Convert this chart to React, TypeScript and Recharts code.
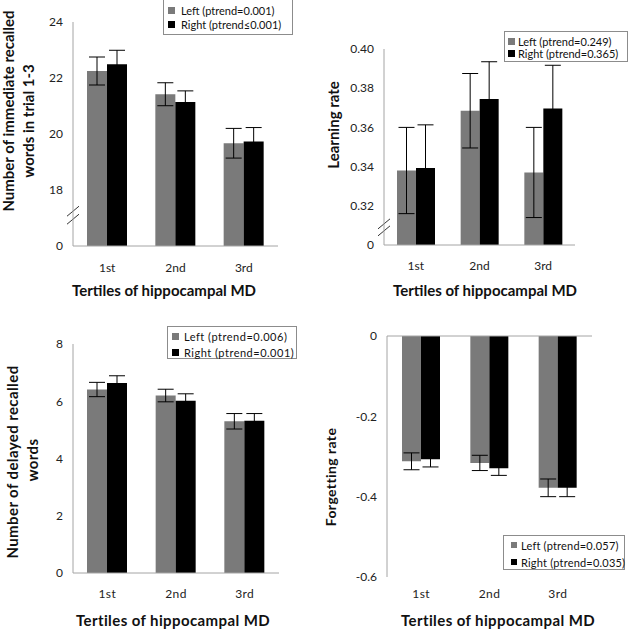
import React from 'react';
import { BarChart, Bar, XAxis, YAxis, ErrorBar, ReferenceLine } from 'recharts';

const tertiles = ['1st', '2nd', '3rd'];

// immediate recall (trials 1-3)
const immLeft = [22.25, 21.42, 19.67];
const immLeftErr = [0.5, 0.41, 0.53];
const immRight = [22.49, 21.14, 19.73];
const immRightErr = [0.5, 0.4, 0.5];
const immTicks = [16, 18, 20, 22, 24];
const immTickLabels = ['0', '18', '20', '22', '24'];

// learning rate
const learnLeft = [0.338, 0.3685, 0.337];
const learnLeftErr = [0.022, 0.019, 0.023];
const learnRight = [0.3393, 0.3745, 0.3697];
const learnRightErr = [0.022, 0.019, 0.022];
const learnTicks = [0.3, 0.32, 0.34, 0.36, 0.38, 0.4];
const learnTickLabels = ['0', '0.32', '0.34', '0.36', '0.38', '0.40'];

// delayed recall
const delayLeft = [6.41, 6.2, 5.3];
const delayLeftErr = [0.25, 0.22, 0.27];
const delayRight = [6.64, 6.02, 5.32];
const delayRightErr = [0.25, 0.24, 0.25];
const delayTicks = [0, 2, 4, 6, 8];
const delayTickLabels = ['0', '2', '4', '6', '8'];

// forgetting rate
const forgetLeft = [-0.312, -0.316, -0.378];
const forgetLeftErr = [0.021, 0.019, 0.022];
const forgetRight = [-0.307, -0.329, -0.378];
const forgetRightErr = [0.019, 0.018, 0.022];
const forgetTicks = [-0.6, -0.4, -0.2, 0];
const forgetTickLabels = ['-0.6', '-0.4', '-0.2', '0'];

const legendLeft = ['Left (ptrend=0.001)', 'Left (ptrend=0.249)', 'Left (ptrend=0.006)', 'Left (ptrend=0.057)'];
const legendRight = ['Right (ptrend\u22640.001)', 'Right (ptrend=0.365)', 'Right (ptrend=0.001)', 'Right (ptrend=0.035)'];

const xTitle = 'Tertiles of hippocampal MD';

const GRAY = '#7a7a7a';
const AXIS = '#a4a4a4';
const FONT = 'Lato, "Open Sans", sans-serif';

const panels = [
  {
    x: 0, y: 0,
    left: immLeft, leftErr: immLeftErr, right: immRight, rightErr: immRightErr,
    domain: [16, 24], ticks: immTicks, tickLabels: immTickLabels,
    margin: { top: 22, right: 37, bottom: 39, left: 23 },
    barSize: 20, xTickMargin: 17, xAxisLine: true,
    yLines: [{ text: 'Number of immediate recalled', x: 8, cy: 111 }, { text: 'words in trial 1-3', x: 28, cy: 121 }],
    title: { cx: 164, y: 290 }, spacing: 0, breakAt: 17.1, breakGap: 8,
  },
  {
    x: 315, y: 0,
    left: learnLeft, leftErr: learnLeftErr, right: learnRight, rightErr: learnRightErr,
    domain: [0.3, 0.4], ticks: learnTicks, tickLabels: learnTickLabels,
    margin: { top: 49, right: 55, bottom: 40, left: 19 },
    barSize: 19, xTickMargin: 16, xAxisLine: true,
    yLines: [{ text: 'Learning rate', x: 18, cy: 125 }],
    title: { cx: 170, y: 290 }, spacing: 0, breakAt: 0.309, breakGap: 7,
  },
  {
    x: 0, y: 315,
    left: delayLeft, leftErr: delayLeftErr, right: delayRight, rightErr: delayRightErr,
    domain: [0, 8], ticks: delayTicks, tickLabels: delayTickLabels,
    margin: { top: 29, right: 36, bottom: 27, left: 23 },
    barSize: 20, xTickMargin: 16, xAxisLine: true,
    yLines: [{ text: 'Number of delayed recalled', x: 12, cy: 147 }, { text: 'words', x: 32, cy: 145 }],
    title: { cx: 173, y: 305 }, spacing: 0.4,
  },
  {
    x: 315, y: 315,
    left: forgetLeft, leftErr: forgetLeftErr, right: forgetRight, rightErr: forgetRightErr,
    domain: [-0.6, 0], ticks: forgetTicks, tickLabels: forgetTickLabels,
    margin: { top: 21, right: 38, bottom: 23, left: 22 },
    barSize: 19, xTickMargin: 12, xAxisLine: false,
    yLines: [{ text: 'Forgetting rate', x: 15, cy: 162, size: 14 }],
    title: { cx: 183, y: 305 }, spacing: 0.4,
  },
];

const legends = [
  { left: 163, top: -2, width: 130, height: 37, rows: [12, 26], sw: 5, tx: 18, size: 7, font: 11, spacing: 0 },
  { left: 504, top: 31, width: 124, height: 31, rows: [10, 22], sw: 4, tx: 14, size: 7, font: 11, spacing: 0 },
  { left: 167, top: 326, width: 130, height: 33, rows: [10, 26], sw: 5, tx: 17, size: 7, font: 11, spacing: 0.5 },
  { left: 503, top: 535, width: 122, height: 35, rows: [10, 27], sw: 8, tx: 18, size: 6, font: 11, spacing: 0.2 },
];

function BreakMark(props: any) {
  const { x1, y1, gap } = props;
  return (
    <g stroke="#333" strokeWidth={1}>
      <line x1={x1 - 6} y1={y1 - gap / 2 + 5} x2={x1 + 6} y2={y1 - gap / 2 - 5} />
      <line x1={x1 - 6} y1={y1 + gap / 2 + 5} x2={x1 + 6} y2={y1 + gap / 2 - 5} />
    </g>
  );
}

function Panel({ cfg }: { cfg: any }) {
  const data = tertiles.map((t, i) => ({
    tertile: t,
    left: cfg.left[i],
    leftErr: cfg.leftErr[i],
    right: cfg.right[i],
    rightErr: cfg.rightErr[i],
  }));

  const yTitle = () => (
    <g>
      {cfg.yLines.map((l: any) => (
        <text
          key={l.text}
          x={l.x}
          y={l.cy}
          transform={`rotate(-90 ${l.x} ${l.cy})`}
          textAnchor="middle"
          dominantBaseline="central"
          fontSize={l.size || 15}
          fontWeight={700}
          letterSpacing={cfg.spacing}
          fill="#111"
        >
          {l.text}
        </text>
      ))}
    </g>
  );

  const xTitleLabel = () => (
    <text
      x={cfg.title.cx}
      y={cfg.title.y}
      textAnchor="middle"
      dominantBaseline="central"
      fontSize={15}
      fontWeight={700}
      letterSpacing={cfg.spacing}
      fill="#111"
    >
      {xTitle}
    </text>
  );

  return (
    <div style={{ position: 'absolute', left: cfg.x, top: cfg.y, width: 315, height: 315 }}>
      <BarChart width={315} height={315} data={data} margin={cfg.margin} barGap={0} barSize={cfg.barSize}>
        <XAxis
          dataKey="tertile"
          height={30}
          interval={0}
          axisLine={cfg.xAxisLine ? { stroke: AXIS } : false}
          tickLine={false}
          tickSize={0}
          tickMargin={cfg.xTickMargin}
          tick={{ fontSize: 12, fill: '#222', letterSpacing: cfg.spacing }}
          label={xTitleLabel}
        />
        <YAxis
          type="number"
          width={50}
          domain={cfg.domain}
          ticks={cfg.ticks}
          allowDataOverflow
          tickFormatter={(v: number) => cfg.tickLabels[cfg.ticks.indexOf(v)]}
          axisLine={{ stroke: AXIS }}
          tickLine={false}
          tickSize={0}
          tickMargin={10}
          tick={{ fontSize: 12, fill: '#222' }}
          label={yTitle}
        />
        {!cfg.xAxisLine && <ReferenceLine y={0} stroke={AXIS} />}
        <Bar dataKey="left" fill={GRAY} isAnimationActive={false}>
          <ErrorBar dataKey="leftErr" width={8} stroke="#000" strokeWidth={1} direction="y" isAnimationActive={false} />
        </Bar>
        <Bar dataKey="right" fill="#000" isAnimationActive={false}>
          <ErrorBar dataKey="rightErr" width={8} stroke="#000" strokeWidth={1} direction="y" isAnimationActive={false} />
        </Bar>
        {cfg.breakAt !== undefined && (
          <ReferenceLine
            y={cfg.breakAt}
            stroke="none"
            shape={(p: any) => <BreakMark {...p} gap={cfg.breakGap} />}
          />
        )}
      </BarChart>
    </div>
  );
}

function LegendBox({ idx }: { idx: number }) {
  const lg = legends[idx];
  const items = [
    { name: legendLeft[idx], color: GRAY },
    { name: legendRight[idx], color: '#000' },
  ];
  return (
    <div
      style={{
        position: 'absolute',
        left: lg.left,
        top: lg.top,
        width: lg.width,
        height: lg.height,
        boxSizing: 'border-box',
        border: '1px solid #8c8c8c',
        background: '#fff',
        fontFamily: FONT,
        fontSize: lg.font,
        letterSpacing: lg.spacing,
        color: '#111',
      }}
    >
      {items.map((it, i) => (
        <div key={it.name} style={{ position: 'absolute', left: 0, top: lg.rows[i] - 6, height: 11, width: '100%' }}>
          <div
            style={{
              position: 'absolute',
              left: lg.sw - 1,
              top: 6 - lg.size / 2 - 1,
              width: lg.size,
              height: lg.size,
              background: it.color,
            }}
          />
          <div style={{ position: 'absolute', left: lg.tx - 1, top: 0, lineHeight: '11px', whiteSpace: 'nowrap' }}>
            {it.name}
          </div>
        </div>
      ))}
    </div>
  );
}

export default function App() {
  return (
    <div
      style={{
        position: 'absolute',
        left: 0,
        top: 0,
        width: 630,
        height: 630,
        background: '#fff',
        overflow: 'hidden',
        fontFamily: FONT,
      }}
    >
      {panels.map((p, i) => (
        <Panel key={i} cfg={p} />
      ))}
      {legends.map((_, i) => (
        <LegendBox key={i} idx={i} />
      ))}
    </div>
  );
}
